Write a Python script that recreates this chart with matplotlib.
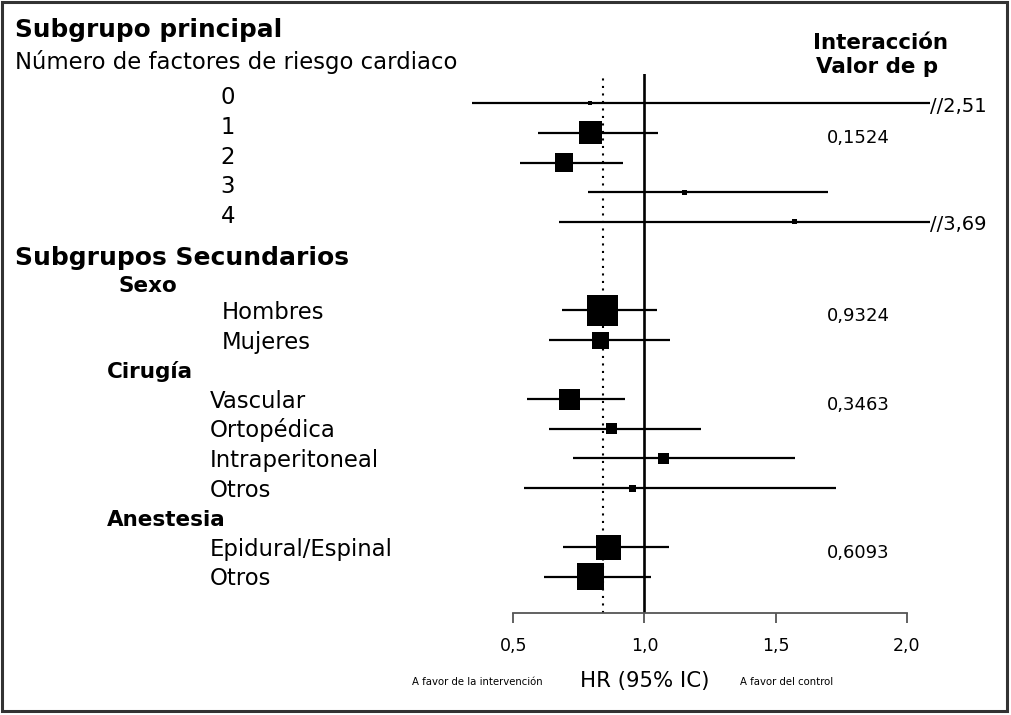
import numpy as np
import matplotlib.pyplot as plt
from matplotlib.patches import Rectangle
from matplotlib.transforms import blended_transform_factory, offset_copy

W, H = 1011, 715

# datos del forest plot
etiquetas = ['0', '1', '2', '3', '4', 'Hombres', 'Mujeres', 'Vascular', 'Ortopédica',
             'Intraperitoneal', 'Otros', 'Epidural/Espinal', 'Otros']
filas = [0, 1, 2, 3, 4, 7, 8, 10, 11, 12, 13, 15, 16]
hr = [0.793, 0.793, 0.693, 1.154, 1.571, 0.842, 0.834, 0.713, 0.875, 1.073, 0.954, 0.862, 0.793]
ic_inf = [0.343, 0.595, 0.526, 0.786, 0.674, 0.687, 0.636, 0.554, 0.636, 0.728, 0.539, 0.689, 0.617]
ic_sup = [2.51, 1.052, 0.92, 1.70, 3.69, 1.047, 1.097, 0.926, 1.217, 1.576, 1.729, 1.095, 1.026]
peso = [1.7, 55, 34, 2.6, 2.6, 100, 30, 46, 12.6, 12.6, 5.1, 65, 76]

p_valores = ['0,1524', '0,9324', '0,3463', '0,6093']
p_filas = [1, 7, 10, 15]

encabezados = ['Sexo', 'Cirugía', 'Anestesia']
encab_filas = [6, 9, 14]

hr_global = 0.843
ticks = [0.5, 1.0, 1.5, 2.0]
tick_labels = ['0,5', '1,0', '1,5', '2,0']

# layout
x_corte = 2.09
etiq_x = [228] * 5 + [222, 222] + [210] * 6
etiq_ha = ['center'] * 5 + ['left'] * 8
etiq_dy = [1] * 5 + [8.5] * 8
encab_x = [118, 107, 107]
encab_dy = [11, 8, 8.5]


def px(x, y):
    return x / W, 1 - y / H


fig = plt.figure(figsize=(W / 100, H / 100), dpi=100)
ax = fig.add_axes([513.3 / W, 1 - 612.7 / H, 393.4 / W, 538.7 / H])
ax.set_xlim(0.5, 2.0)
ax.set_ylim(17.21, -0.99)

for s in ['left', 'top', 'right']:
    ax.spines[s].set_visible(False)
ax.spines['bottom'].set_color('#555555')
ax.spines['bottom'].set_linewidth(1.3)
ax.set_yticks([])
ax.set_xticks(ticks)
ax.set_xticklabels(tick_labels, fontsize=12.5)
ax.tick_params(axis='x', length=7.5, width=1.3, color='#555555', pad=10)

ax.axvline(1.0, color='black', lw=1.9)
ax.axvline(hr_global, color='black', lw=1.5, ls=(0, (1, 2.6)))

lado_max = 31 * 0.72
for i in range(len(filas)):
    fin = min(ic_sup[i], x_corte)
    ax.plot([ic_inf[i], fin], [filas[i], filas[i]], color='black', lw=1.6,
            clip_on=False, solid_capstyle='butt')
    if ic_sup[i] > x_corte:
        t = offset_copy(ax.transData, fig=fig, x=0, y=-8.5, units='dots')
        ax.text(fin, filas[i], '//' + str(ic_sup[i]).replace('.', ','),
                transform=t, fontsize=14, va='baseline', ha='left')
ax.scatter(hr, filas, marker='s', s=np.array(peso) * lado_max ** 2 / 100,
           color='black', zorder=3, clip_on=False, linewidths=0)

tr = blended_transform_factory(fig.transFigure, ax.transData)
for i in range(len(filas)):
    t = offset_copy(tr, fig=fig, x=0, y=-etiq_dy[i], units='dots')
    ax.text(etiq_x[i] / W, filas[i], etiquetas[i], transform=t, fontsize=16.4,
            ha=etiq_ha[i], va='baseline')

for i in range(len(encabezados)):
    t = offset_copy(tr, fig=fig, x=0, y=-encab_dy[i], units='dots')
    ax.text(encab_x[i] / W, encab_filas[i], encabezados[i], transform=t,
            fontsize=15.5, fontweight='bold', va='baseline')

for i in range(len(p_valores)):
    t = offset_copy(tr, fig=fig, x=0, y=-10.5, units='dots')
    ax.text(827 / W, p_filas[i], p_valores[i], transform=t, fontsize=13, va='baseline')

fig.text(*px(15, 36.7), 'Subgrupo principal', fontsize=17.8, fontweight='bold', va='baseline')
fig.text(*px(15, 69), 'Número de factores de riesgo cardiaco', fontsize=16.4, va='baseline')
fig.text(*px(15, 265), 'Subgrupos Secundarios', fontsize=18, fontweight='bold', va='baseline')
fig.text(*px(880.5, 49.3), 'Interacción', fontsize=15.4, fontweight='bold', ha='center', va='baseline')
fig.text(*px(877.5, 73.3), 'Valor de p', fontsize=15.4, fontweight='bold', ha='center', va='baseline')

fig.text(*px(645, 681), 'HR (95% IC)', fontsize=15.3, ha='center', va='center')
fig.text(*px(477, 682), 'A favor de la intervención', fontsize=7.3, ha='center', va='center')
fig.text(*px(786.5, 682), 'A favor del control', fontsize=7.3, ha='center', va='center')

fig.patches.append(Rectangle((1.5 / W, 1 - 710.5 / H), 1005.5 / W, 709 / H,
                             transform=fig.transFigure, fill=False,
                             edgecolor='#333333', lw=2.2))

fig.savefig('out.png', dpi=100)
